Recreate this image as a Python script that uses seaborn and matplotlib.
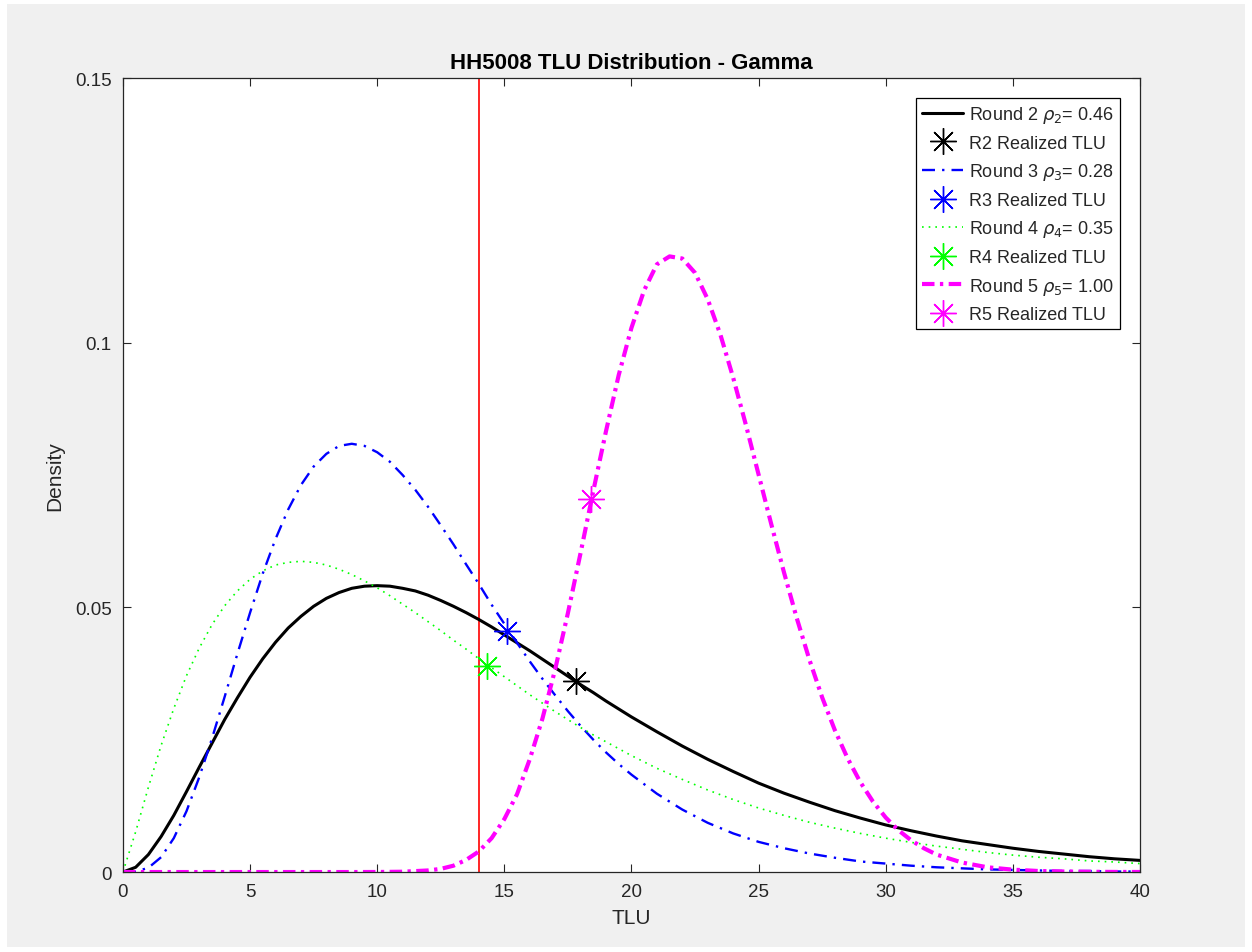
import matplotlib
matplotlib.use("Agg")
import matplotlib.pyplot as plt
import seaborn as sns
from matplotlib.patches import Rectangle

# Density curves (TLU on x, density on y)
tlu = [0, 0.5, 1, 1.5, 2, 2.5, 3, 3.5, 4, 4.5, 5, 5.5, 6, 6.5, 7, 7.5, 8, 8.5, 9, 9.5,
       10, 10.5, 11, 11.5, 12, 12.5, 13, 13.5, 14, 14.5, 15, 15.5, 16, 16.5, 17, 17.5,
       18, 18.5, 19, 19.5, 20, 21, 22, 23, 24, 25, 26, 27, 28, 29, 30, 31, 32, 33, 34,
       35, 36, 37, 38, 39, 40]
r2_density = [0.0, 0.0009, 0.0033, 0.0067, 0.0107, 0.0152, 0.0198, 0.0243, 0.0288, 0.0329,
              0.0368, 0.0403, 0.0434, 0.0461, 0.0483, 0.0502, 0.0517, 0.0528, 0.0536, 0.0540,
              0.0541, 0.0540, 0.0536, 0.0531, 0.0523, 0.0513, 0.0502, 0.0490, 0.0477, 0.0463,
              0.0448, 0.0433, 0.0418, 0.0402, 0.0386, 0.0370, 0.0354, 0.0339, 0.0323, 0.0308,
              0.0293, 0.0265, 0.0238, 0.0213, 0.0190, 0.0168, 0.0149, 0.0132, 0.0116, 0.0102,
              0.0089, 0.0078, 0.0068, 0.0059, 0.0052, 0.0045, 0.0039, 0.0034, 0.0029, 0.0025,
              0.0022]
r3_density = [0.0, 0.0001, 0.0008, 0.0028, 0.0064, 0.0115, 0.0179, 0.0252, 0.0331, 0.0412,
              0.0490, 0.0564, 0.0629, 0.0685, 0.0731, 0.0766, 0.0790, 0.0805, 0.0809, 0.0805,
              0.0793, 0.0775, 0.0750, 0.0722, 0.0690, 0.0655, 0.0619, 0.0581, 0.0544, 0.0505,
              0.0469, 0.0433, 0.0398, 0.0365, 0.0334, 0.0304, 0.0276, 0.0250, 0.0226, 0.0204,
              0.0184, 0.0148, 0.0118, 0.0093, 0.0073, 0.0057, 0.0045, 0.0035, 0.0027, 0.0020,
              0.0016, 0.0012, 0.0009, 0.0007, 0.0005, 0.0004, 0.0003, 0.0002, 0.0002, 0.0001,
              0.0001]
r4_density = [0.0, 0.0076, 0.0160, 0.0239, 0.0309, 0.0371, 0.0423, 0.0467, 0.0503, 0.0531,
              0.0553, 0.0569, 0.0580, 0.0585, 0.0587, 0.0585, 0.0580, 0.0572, 0.0562, 0.0550,
              0.0537, 0.0522, 0.0506, 0.0490, 0.0473, 0.0456, 0.0438, 0.0421, 0.0403, 0.0386,
              0.0369, 0.0352, 0.0335, 0.0319, 0.0303, 0.0288, 0.0273, 0.0259, 0.0246, 0.0233,
              0.0220, 0.0196, 0.0175, 0.0155, 0.0137, 0.0121, 0.0107, 0.0094, 0.0083, 0.0073,
              0.0064, 0.0056, 0.0049, 0.0043, 0.0037, 0.0032, 0.0028, 0.0025, 0.0021, 0.0019,
              0.0016]
tlu_r5 = [0, 1, 2, 3, 4, 5, 6, 7, 8, 9, 10, 11, 12, 12.5, 13, 13.5, 14, 14.5, 15, 15.5,
          16, 16.5, 17, 17.5, 18, 18.5, 19, 19.5, 20, 20.5, 21, 21.5, 22, 22.5, 23, 23.5,
          24, 24.5, 25, 25.5, 26, 26.5, 27, 27.5, 28, 28.5, 29, 29.5, 30, 30.5, 31, 31.5,
          32, 33, 34, 35, 36, 37, 38, 39, 40]
r5_density = [0.0, 0.0, 0.0, 0.0, 0.0, 0.0, 0.0, 0.0, 0.0, 0.0, 0.00001, 0.00006, 0.0003,
              0.0006, 0.0012, 0.0023, 0.0039, 0.0064, 0.0100, 0.0147, 0.0213, 0.0290,
              0.0383, 0.0489, 0.0603, 0.0720, 0.0833, 0.0939, 0.1028, 0.1099, 0.1148,
              0.1163, 0.1159, 0.1132, 0.1082, 0.1015, 0.0934, 0.0845, 0.0751, 0.0657,
              0.0566, 0.0480, 0.0401, 0.0330, 0.0268, 0.0215, 0.0170, 0.0133, 0.0103,
              0.0079, 0.0060, 0.0045, 0.0033, 0.0018, 0.0009, 0.00045, 0.0002, 0.0001,
              0.00005, 0.00002, 0.00001]

# Realized TLU points
realized_tlu = [17.8, 15.1, 14.3, 18.4]
realized_density = [0.036, 0.0455, 0.039, 0.0705]
threshold_tlu = 14

round_labels = [r"Round 2 $\rho_2$= 0.46", r"Round 3 $\rho_3$= 0.28",
                r"Round 4 $\rho_4$= 0.35", r"Round 5 $\rho_5$= 1.00"]
point_labels = ["R2 Realized TLU", "R3 Realized TLU", "R4 Realized TLU", "R5 Realized TLU"]
x_ticks = [0, 5, 10, 15, 20, 25, 30, 35, 40]
y_ticks = [0, 0.05, 0.1, 0.15]
y_tick_labels = ["0", "0.05", "0.1", "0.15"]

sns.set_style("ticks")
plt.rcParams["font.family"] = ["Liberation Sans", "DejaVu Sans"]
plt.rcParams["mathtext.fontset"] = "dejavusans"
dark = "#262626"

fig = plt.figure(figsize=(12.52, 9.53), dpi=100, facecolor="white")
fig.patches.append(Rectangle((0.0056, 0.005), 0.989, 0.99, transform=fig.transFigure,
                             facecolor="#f0f0f0", edgecolor="none", zorder=-10))
ax = fig.add_axes([0.0982, 0.0839, 0.8123, 0.8332])
ax.set_facecolor("white")

curves = [
    (tlu, r2_density, "black", "-", 2.2),
    (tlu, r3_density, "#0000ff", (0, (5.5, 3, 1, 3)), 1.7),
    (tlu, r4_density, "#00ff00", (0, (1, 3)), 1.2),
    (tlu_r5, r5_density, "#ff00ff", (0, (3, 1.3, 0.8, 1.3)), 3.0),
]

ax.axvline(threshold_tlu, color="#ff0000", lw=1.2, zorder=1)

handles = []
labels = []
for i, (xs, ys, col, ls, lw) in enumerate(curves):
    sns.lineplot(x=xs, y=ys, color=col, linestyle=ls, lw=lw, ax=ax, legend=False, zorder=2)
    line = ax.get_lines()[-1]
    star, = ax.plot([realized_tlu[i]], [realized_density[i]], linestyle="none",
                    marker=(8, 2, 0), ms=19, mew=1.0, color=col, zorder=3)
    dot, = ax.plot([realized_tlu[i]], [realized_density[i]], linestyle="none",
                   marker="o", ms=3, color=col, zorder=3)
    handles += [line, (star, dot)]
    labels += [round_labels[i], point_labels[i]]

ax.set_xlim(0, 40)
ax.set_ylim(0, 0.15)
ax.set_xticks(x_ticks)
ax.set_xticklabels([str(t) for t in x_ticks])
ax.set_yticks(y_ticks)
ax.set_yticklabels(y_tick_labels)
ax.tick_params(direction="in", length=6, width=0.8, top=True, right=True,
               labelsize=13.5, colors=dark, pad=8)
for sp in ax.spines.values():
    sp.set_visible(True)
    sp.set_color(dark)
    sp.set_linewidth(0.9)

ax.set_title("HH5008 TLU Distribution - Gamma", fontsize=16, fontweight="bold",
             color="black", pad=7)
ax.set_xlabel("TLU", fontsize=15, color=dark, labelpad=6)
ax.set_ylabel("Density", fontsize=15, color=dark, labelpad=8)

leg = ax.legend(handles, labels, loc="upper right", fontsize=13, frameon=True,
                fancybox=False, edgecolor="black", framealpha=1, handlelength=2.3,
                labelspacing=0.53, borderpad=0.35, handletextpad=0.3,
                borderaxespad=1.1)
leg.get_frame().set_linewidth(0.9)

fig.savefig("out.png", dpi=100, facecolor=fig.get_facecolor())
